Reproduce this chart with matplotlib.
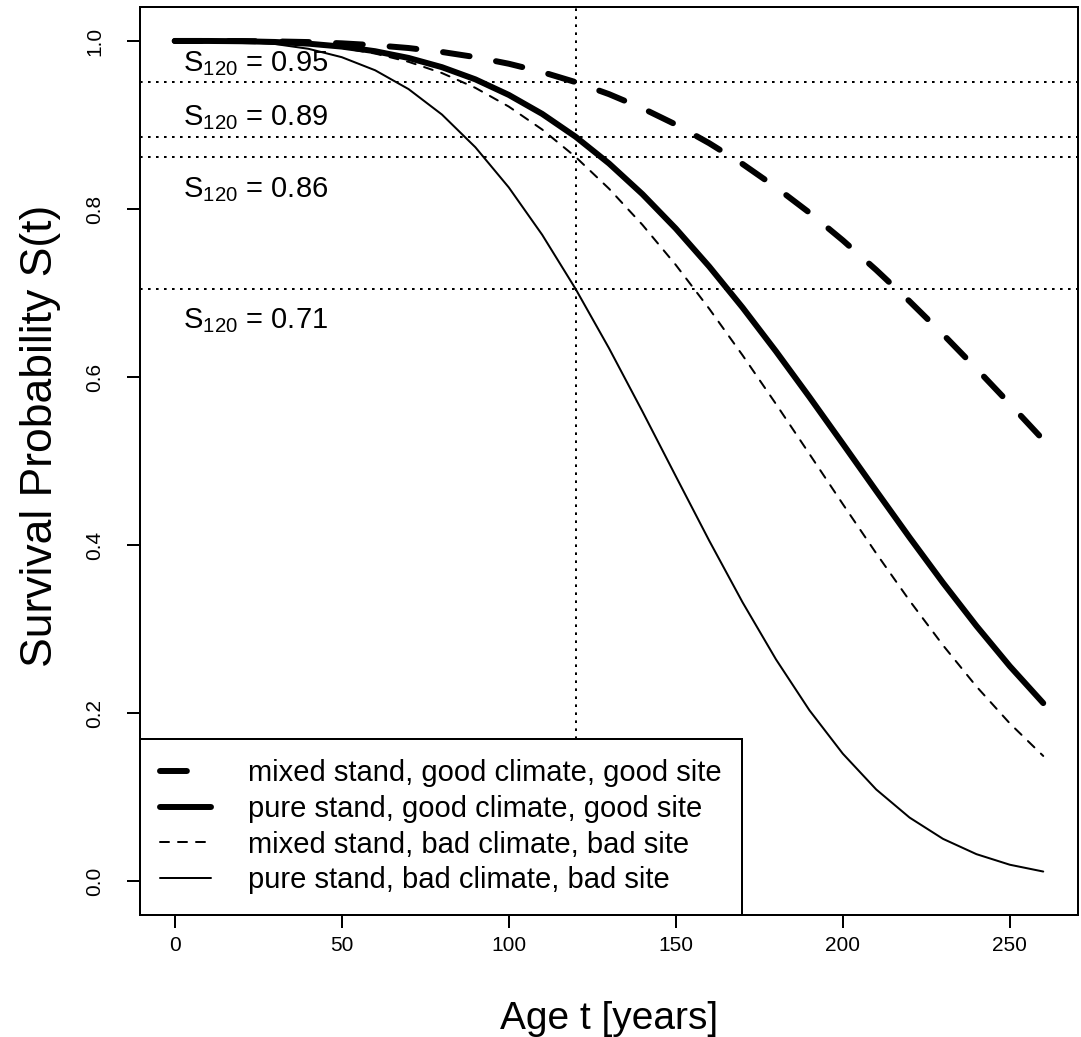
import matplotlib
matplotlib.use('Agg')
import matplotlib.pyplot as plt

plt.rcParams['font.family'] = ['Liberation Sans', 'DejaVu Sans']
plt.rcParams['mathtext.fontset'] = 'custom'
plt.rcParams['mathtext.rm'] = 'Liberation Sans'
plt.rcParams['mathtext.it'] = 'Liberation Sans'

# survival curves, every 10 years
age = [0, 10, 20, 30, 40, 50, 60, 70, 80, 90, 100, 110, 120, 130,
       140, 150, 160, 170, 180, 190, 200, 210, 220, 230, 240, 250, 260]
mixed_good = [1.000, 1.000, 0.9999, 0.9995, 0.9987, 0.9972, 0.9949, 0.9916, 0.9869,
              0.9808, 0.9729, 0.9630, 0.9510, 0.9367, 0.9199, 0.9005, 0.8783, 0.8535,
              0.8258, 0.7956, 0.7627, 0.7274, 0.6900, 0.6508, 0.6099, 0.5679, 0.5252]
pure_good = [1.000, 1.000, 0.9997, 0.9988, 0.9968, 0.9933, 0.9878, 0.9798, 0.9688,
             0.9543, 0.9358, 0.9132, 0.8860, 0.8542, 0.8177, 0.7767, 0.7315, 0.6826,
             0.6305, 0.5762, 0.5205, 0.4644, 0.4089, 0.3550, 0.3037, 0.2557, 0.2118]
mixed_bad = [1.000, 1.000, 0.9996, 0.9985, 0.9961, 0.9918, 0.9850, 0.9752, 0.9618,
             0.9442, 0.9219, 0.8946, 0.8620, 0.8242, 0.7812, 0.7334, 0.6813, 0.6258,
             0.5678, 0.5084, 0.4487, 0.3901, 0.3337, 0.2806, 0.2316, 0.1876, 0.1489]
pure_bad = [1.000, 0.9999, 0.9991, 0.9964, 0.9907, 0.9807, 0.9651, 0.9427, 0.9124,
            0.8735, 0.8257, 0.7693, 0.7049, 0.6343, 0.5591, 0.4819, 0.4052, 0.3317,
            0.2638, 0.2033, 0.1516, 0.1090, 0.0755, 0.0502, 0.0320, 0.0194, 0.0113]

labels = ['mixed stand, good climate, good site',
          'pure stand, good climate, good site',
          'mixed stand, bad climate, bad site',
          'pure stand, bad climate, bad site']

t_ref = 120
s120 = [0.951, 0.886, 0.862, 0.705]
s120_text = ['0.95', '0.89', '0.86', '0.71']
text_y = [0.964, 0.900, 0.814, 0.658]

thick = 4.3
thin = 1.44
dash = (0, (4.5, 4.5))

fig = plt.figure(figsize=(10.81, 10.37), dpi=100)
ax = fig.add_axes([0.1295, 0.118, 0.8677, 0.8749])

styles = [dict(lw=thick, ls=dash), dict(lw=thick, ls='-'),
          dict(lw=thin, ls=dash), dict(lw=thin, ls='-')]
series = [mixed_good, pure_good, mixed_bad, pure_bad]
handles = []
for s, st, lab in zip(series, styles, labels):
    ln, = ax.plot(age, s, color='black', dash_capstyle='round',
                  solid_capstyle='round', label=lab, **st)
    handles.append(ln)

# reference lines at t = 120
dot = (0, (1.3, 2.7))
for v in s120:
    ax.axhline(v, color='black', lw=thin, ls=dot, dash_capstyle='butt')
ax.axvline(t_ref, color='black', lw=thin, ls=dot, dash_capstyle='butt')

for ty, txt in zip(text_y, s120_text):
    ax.text(2.4, ty, r'S$_{120}$ = ' + txt, fontsize=21,
            ha='left', va='baseline')

ax.set_xlim(-10.4, 270.4)
ax.set_ylim(-0.04, 1.04)
ax.set_xticks([0, 50, 100, 150, 200, 250])
ax.set_yticks([0.0, 0.2, 0.4, 0.6, 0.8, 1.0])
ax.set_yticklabels(['0.0', '0.2', '0.4', '0.6', '0.8', '1.0'], rotation=90, va='center')
ax.tick_params(axis='both', length=9.5, width=1.44, labelsize=15)
ax.tick_params(axis='x', pad=6)
ax.tick_params(axis='y', pad=16)
for sp in ax.spines.values():
    sp.set_linewidth(1.44)

ax.set_xlabel('Age t [years]', fontsize=28, labelpad=33)
ax.set_ylabel('Survival Probability S(t)', fontsize=32)
ax.yaxis.set_label_coords(-0.084, 0.528)

leg = ax.legend(handles=handles, loc='lower left', bbox_to_anchor=(0, 0),
                borderaxespad=0, fontsize=21, frameon=True, fancybox=False,
                edgecolor='black', framealpha=1, handlelength=1.75,
                handletextpad=1.25, borderpad=0.7, labelspacing=0.26)
leg.get_frame().set_linewidth(1.44)

plt.savefig('out.png', dpi=100)
